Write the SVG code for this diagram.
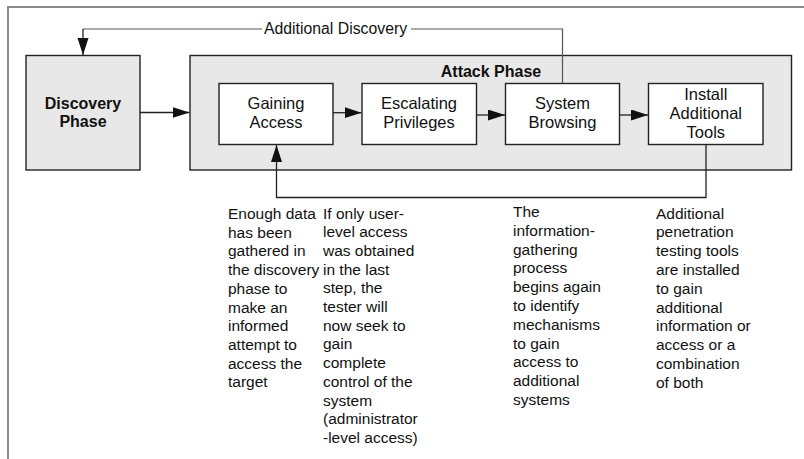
<svg xmlns="http://www.w3.org/2000/svg" width="804" height="459" viewBox="0 0 804 459">
<style>
.frame{fill:none;stroke:#8a8a8a;stroke-width:2}
.phase{fill:#e8e8e8;stroke:#222;stroke-width:1.4}
.box{fill:#fff;stroke:#222;stroke-width:1.4}
.t{font-family:"Liberation Sans",Arial,sans-serif;font-size:15.5px;fill:#111}
.bt{font-family:"Liberation Sans",Arial,sans-serif;font-size:16.5px;fill:#111}
.b{font-family:"Liberation Sans",Arial,sans-serif;font-size:16px;font-weight:bold;fill:#111}
.c{text-anchor:middle}
.conn{fill:none;stroke:#222;stroke-width:1.3}
.conn2{fill:none;stroke:#555;stroke-width:1.2}
</style>
<defs>
<marker id="ah" markerUnits="userSpaceOnUse" markerWidth="18" markerHeight="12" refX="17" refY="5.5" orient="auto">
<path d="M0,0 L17,5.5 L0,11 Z" fill="#111"/>
</marker>
</defs>
<rect width="804" height="459" fill="#fff"/>
<path class="frame" d="M8,459 V7 H804"/>

<g id="discovery">
<rect class="phase" x="26" y="55.5" width="114" height="114.5"/>
<text class="b c" x="83" y="109">Discovery</text>
<text class="b c" x="83" y="127">Phase</text>
</g>

<g id="attack">
<rect class="phase" x="190" y="55.5" width="601.5" height="114.5"/>
<text class="b c" x="491" y="77">Attack Phase</text>
</g>

<g id="gaining">
<rect class="box" x="219" y="83.5" width="114" height="61"/>
<text class="bt c" x="276" y="109">Gaining</text>
<text class="bt c" x="276" y="128">Access</text>
</g>

<g id="escalating">
<rect class="box" x="362" y="83.5" width="114.5" height="61"/>
<text class="bt c" x="419" y="109">Escalating</text>
<text class="bt c" x="419" y="128">Privileges</text>
</g>

<g id="browsing">
<rect class="box" x="505.5" y="83.5" width="114" height="61"/>
<text class="bt c" x="562.5" y="109">System</text>
<text class="bt c" x="562.5" y="128">Browsing</text>
</g>

<g id="install">
<rect class="box" x="648.5" y="83.5" width="114.5" height="61"/>
<text class="bt c" x="705.8" y="100">Install</text>
<text class="bt c" x="705.8" y="119">Additional</text>
<text class="bt c" x="705.8" y="138">Tools</text>
</g>

<g id="connectors">
<path class="conn" d="M140,112.5 H189.5" marker-end="url(#ah)"/>
<path class="conn" d="M333,112.7 H361.5" marker-end="url(#ah)"/>
<path class="conn" d="M476.5,115 H505" marker-end="url(#ah)"/>
<path class="conn" d="M619.5,115 H648" marker-end="url(#ah)"/>
<path class="conn2" d="M562.5,83.5 V29 H411"/>
<path class="conn2" d="M262,29 H83" />
<path class="conn" d="M83,29 V55" marker-end="url(#ah)"/>
<path class="conn" d="M706,144.5 V197.5 H276.5 V145" marker-end="url(#ah)"/>
<text class="t" x="264" y="34" style="font-size:15.8px">Additional Discovery</text>
</g>

<g id="notes">
<text class="t" x="228" y="219">
<tspan x="228" dy="0">Enough data</tspan>
<tspan x="228" dy="18.7">has been</tspan>
<tspan x="228" dy="18.7">gathered in</tspan>
<tspan x="228" dy="18.7">the discovery</tspan>
<tspan x="228" dy="18.7">phase to</tspan>
<tspan x="228" dy="18.7">make an</tspan>
<tspan x="228" dy="18.7">informed</tspan>
<tspan x="228" dy="18.7">attempt to</tspan>
<tspan x="228" dy="18.7">access the</tspan>
<tspan x="228" dy="18.7">target</tspan>
</text>
<text class="t" x="323" y="218.5">
<tspan x="323" dy="0">If only user-</tspan>
<tspan x="323" dy="18.7">level access</tspan>
<tspan x="323" dy="18.7">was obtained</tspan>
<tspan x="323" dy="18.7">in the last</tspan>
<tspan x="323" dy="18.7">step, the</tspan>
<tspan x="323" dy="18.7">tester will</tspan>
<tspan x="323" dy="18.7">now seek to</tspan>
<tspan x="323" dy="18.7">gain</tspan>
<tspan x="323" dy="18.7">complete</tspan>
<tspan x="323" dy="18.7">control of the</tspan>
<tspan x="323" dy="18.7">system</tspan>
<tspan x="323" dy="18.7">(administrator</tspan>
<tspan x="323" dy="18.7">-level access)</tspan>
</text>
<text class="t" x="513" y="217">
<tspan x="513" dy="0">The</tspan>
<tspan x="513" dy="18.8">information-</tspan>
<tspan x="513" dy="18.8">gathering</tspan>
<tspan x="513" dy="18.8">process</tspan>
<tspan x="513" dy="18.8">begins again</tspan>
<tspan x="513" dy="18.8">to identify</tspan>
<tspan x="513" dy="18.8">mechanisms</tspan>
<tspan x="513" dy="18.8">to gain</tspan>
<tspan x="513" dy="18.8">access to</tspan>
<tspan x="513" dy="18.8">additional</tspan>
<tspan x="513" dy="18.8">systems</tspan>
</text>
<text class="t" x="656" y="218.5">
<tspan x="656" dy="0">Additional</tspan>
<tspan x="656" dy="18.8">penetration</tspan>
<tspan x="656" dy="18.8">testing tools</tspan>
<tspan x="656" dy="18.8">are installed</tspan>
<tspan x="656" dy="18.8">to gain</tspan>
<tspan x="656" dy="18.8">additional</tspan>
<tspan x="656" dy="18.8">information or</tspan>
<tspan x="656" dy="18.8">access or a</tspan>
<tspan x="656" dy="18.8">combination</tspan>
<tspan x="656" dy="18.8">of both</tspan>
</text>
</g>
</svg>
